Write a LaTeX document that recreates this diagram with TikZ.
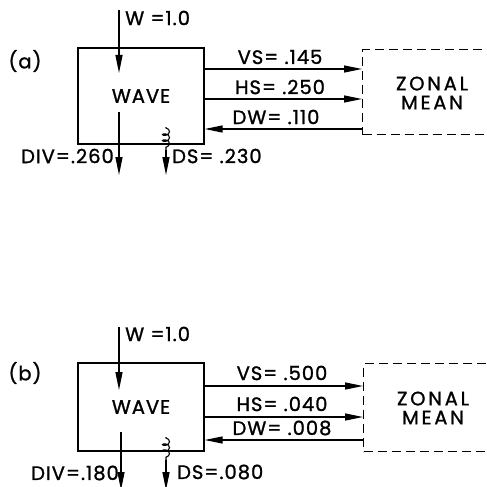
\documentclass[tikz,border=0pt]{standalone}
\usepackage{fontspec}
\setmainfont{Poppins}[LetterSpace=5,FakeBold=1.2]
\newfontfamily\widefont{Poppins}[LetterSpace=14,FakeBold=1.2]
\usetikzlibrary{arrows.meta,positioning,decorations.pathmorphing}
\tikzset{
  ar/.style={-{Triangle[length=18pt,width=7pt]},line width=1.3pt},
  box/.style={draw,line width=1.3pt,minimum width=126pt,inner sep=0pt},
  zbox/.style={draw,dashed,dash pattern=on 9pt off 5pt,line width=1.3pt,minimum width=150pt,inner sep=0pt},
  lbl/.style={font=\fontsize{19.5}{18}\selectfont,inner sep=0pt},
  zlbl/.style={font=\widefont\fontsize{19.5}{19}\selectfont,inner sep=0pt,align=center},
  spring/.style={line width=1.1pt,decorate,decoration={coil,aspect=0.6,amplitude=3.5pt,segment length=6pt,pre length=1pt,post length=1pt}}
}
\begin{document}
\begin{tikzpicture}[x=1pt,y=-1pt]
\clip (0,0) rectangle (487,487);
\useasboundingbox (0,0) rectangle (487,487);
% (a)
\node[lbl] (pa) at (25,61) {(a)};
\node[box,minimum height=96pt] (wa) at (141,96) {};
\node[lbl] at (wa.center) {WAVE};
\node[zbox,minimum height=85pt,anchor=north west] (za) at (362,49) {};
\node[zlbl] (zta) at (432,93) {ZONAL\\MEAN};
\coordinate (wta) at (119,10);
\coordinate (wha) at (119,73);
\draw[ar] (wta) -- (wha);
\node[lbl,anchor=west] at (125,18) {W =1.0};
\coordinate (vsa) at (0,69);
\coordinate (hsa) at (0,99);
\coordinate (dwa) at (0,129);
\draw[ar] (vsa -| wa.east) -- (vsa -| za.west);
\draw[ar] (hsa -| wa.east) -- (hsa -| za.west);
\draw[ar] (dwa -| za.west) -- (dwa -| wa.east);
\node[lbl] at (280,57) {VS= .145};
\node[lbl] at (280,87) {HS= .250};
\node[lbl] at (276,117) {DW= .110};
\coordinate (dva) at (119,112);
\coordinate (dvb) at (119,175);
\draw[ar] (dva) -- (dvb);
\node[lbl,anchor=east] at (114,156) {DIV=.260};
\coordinate (dsa) at (166,127);
\coordinate (dsb) at (166,150);
\coordinate (dsc) at (166,175);
\draw[spring] (dsa) -- (dsb);
\draw[ar] (dsb) -- (dsc);
\node[lbl,anchor=west] at (172,156) {DS= .230};
% (b)
\node[lbl] (pb) at (25,373) {(b)};
\node[box,minimum height=88pt] (wb) at (141,407) {};
\node[lbl] at (wb.center) {WAVE};
\node[zbox,minimum height=88pt,anchor=north west] (zb) at (363,363) {};
\node[zlbl] (ztb) at (433,408) {ZONAL\\MEAN};
\coordinate (wtb) at (119,327);
\coordinate (whb) at (119,390);
\draw[ar] (wtb) -- (whb);
\node[lbl,anchor=west] at (125,334) {W =1.0};
\coordinate (vsb) at (0,386);
\coordinate (hsb) at (0,417);
\coordinate (dwb) at (0,440);
\draw[ar] (vsb -| wb.east) -- (vsb -| zb.west);
\draw[ar] (hsb -| wb.east) -- (hsb -| zb.west);
\draw[ar] (dwb -| zb.west) -- (dwb -| wb.east);
\node[lbl] at (282,373) {VS= .500};
\node[lbl] at (282,404) {HS= .040};
\node[lbl] at (282,428) {DW= .008};
\coordinate (dvc) at (121,432);
\coordinate (dvd) at (121,490);
\draw[ar] (dvc) -- (dvd);
\node[lbl,anchor=east] at (119,473) {DIV=.180};
\coordinate (dsd) at (166,437);
\coordinate (dse) at (166,460);
\coordinate (dsf) at (166,490);
\draw[spring] (dsd) -- (dse);
\draw[ar] (dse) -- (dsf);
\node[lbl,anchor=west] at (177,472) {DS=.080};
\end{tikzpicture}
\end{document}
